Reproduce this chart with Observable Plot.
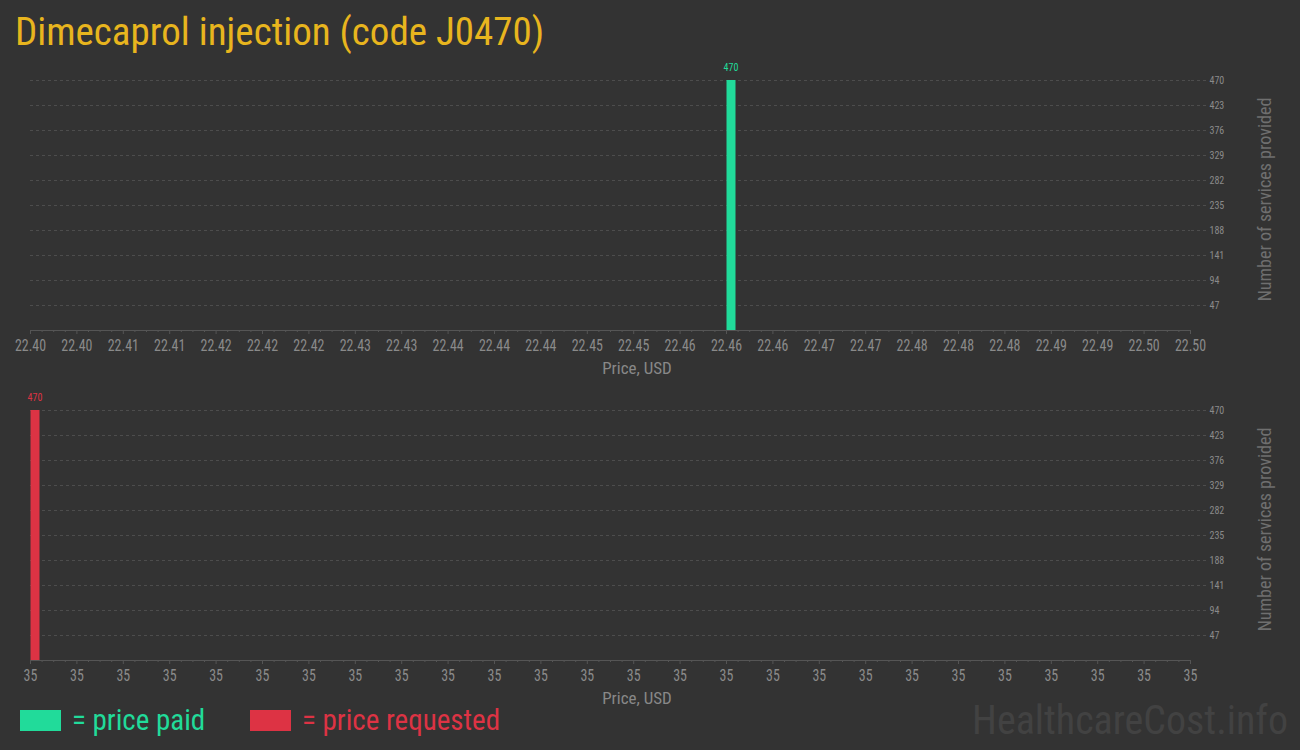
<!DOCTYPE html>
<html>
<head>
<meta charset="utf-8">
<script src="https://cdn.jsdelivr.net/npm/d3@7"></script>
<script src="https://cdn.jsdelivr.net/npm/@observablehq/plot@0.6"></script>
<style>
  html, body { margin: 0; padding: 0; background: #333333; }
  #page { position: relative; width: 1300px; height: 750px; background: #333333; overflow: hidden;
          font-family: "Liberation Sans Narrow", "Roboto Condensed", "DejaVu Sans Condensed", sans-serif; }
  .abs { position: absolute; white-space: nowrap; }
  #title { left: 15px; top: 9px; font-size: 39px; color: #E8B51E; }
  .xlabel { font-size: 17px; color: #888888; width: 200px; text-align: center; }
  .ylabel { font-size: 18px; color: #6f6f6f; transform: rotate(-90deg); transform-origin: center center; width: 300px; text-align: center; }
  .chart { position: absolute; left: 0; }
  .sw { position: absolute; width: 41px; height: 21px; }
  .lg { font-size: 29px; }
  #wm { right: 12px; top: 697px; font-size: 40px; color: #424242; }
</style>
</head>
<body>
<div id="page">
  <div id="title" class="abs">Dimecaprol injection (code J0470)</div>
  <div id="top" class="chart" style="top:55px"></div>
  <div id="bottom" class="chart" style="top:385px"></div>
  <div class="abs xlabel" style="left:537px; top:358px">Price, USD</div>
  <div class="abs xlabel" style="left:537px; top:688px">Price, USD</div>
  <div class="abs ylabel" style="left:1114px; top:189px">Number of services provided</div>
  <div class="abs ylabel" style="left:1114px; top:519px">Number of services provided</div>
  <div class="sw" style="left:20px; top:710px; background:#21DB9A"></div>
  <div class="abs lg" style="left:72px; top:703px; color:#21DB9A">= price paid</div>
  <div class="sw" style="left:250px; top:710px; background:#DD3344"></div>
  <div class="abs lg" style="left:302px; top:703px; color:#DD3344">= price requested</div>
  <div id="wm" class="abs">HealthcareCost.info</div>
</div>
<script>
// ---- data ----
const paidPrices = [22.46];
const paidCounts = [470];
const requestedPrices = [35];
const requestedCounts = [470];
const yTicks = [47, 94, 141, 188, 235, 282, 329, 376, 423, 470];
const paidTicks = [22.400, 22.404, 22.408, 22.412, 22.416, 22.420, 22.424, 22.428, 22.432, 22.436,
  22.440, 22.444, 22.448, 22.452, 22.456, 22.460, 22.464, 22.468, 22.472, 22.476,
  22.480, 22.484, 22.488, 22.492, 22.496, 22.500];
const requestedTicks = [35.000, 35.004, 35.008, 35.012, 35.016, 35.020, 35.024, 35.028, 35.032, 35.036,
  35.040, 35.044, 35.048, 35.052, 35.056, 35.060, 35.064, 35.068, 35.072, 35.076,
  35.080, 35.084, 35.088, 35.092, 35.096, 35.100];
const paidDomain = [22.40, 22.50];
const requestedDomain = [35.0, 35.1];
const yDomain = [0, 470];

function minorTicks(ticks) {
  const out = [];
  for (let i = 0; i < ticks.length - 1; i++) {
    const step = (ticks[i + 1] - ticks[i]) / 4;
    for (let k = 1; k < 4; k++) out.push(ticks[i] + k * step);
  }
  return out;
}

function histogram(prices, counts, ticks, domain, fmt, color) {
  const data = prices.map((p, i) => ({price: p, count: counts[i]}));
  const svg = Plot.plot({
    width: 1300,
    height: 320,
    marginTop: 25,
    marginBottom: 45,
    marginLeft: 30,
    marginRight: 110,
    style: {background: "transparent", fontFamily: '"Liberation Sans Narrow", "Roboto Condensed", "DejaVu Sans Condensed", sans-serif', overflow: "visible"},
    x: {domain, axis: null},
    y: {domain: yDomain, axis: null},
    marks: [
      Plot.gridY(yTicks, {stroke: "#4d4d4d", strokeOpacity: 1, strokeDasharray: "3,3"}),
      Plot.axisY(yTicks, {anchor: "right", tickSize: 15, tickPadding: 4, stroke: "#4d4d4d", strokeDasharray: "3,3", fill: "#8a8a8a", fontSize: 10, tickFormat: d3.format("d"), label: null}),
      Plot.ruleY([0], {stroke: "#555555"}),
      Plot.axisX(minorTicks(ticks), {anchor: "bottom", tickSize: 2, stroke: "#555555", tickFormat: () => "", label: null}),
      Plot.axisX(ticks, {anchor: "bottom", tickSize: 4, tickPadding: 4, stroke: "#555555", fill: "#8a8a8a", fontSize: 17, tickFormat: fmt, label: null}),
      Plot.ruleX(data, {x: "price", y1: 0, y2: "count", stroke: color, strokeWidth: 9, dx: 4.5}),
      Plot.text(data, {x: "price", y: "count", text: d => String(d.count), dx: 4.5, dy: -13, fill: color, fontSize: 10})
    ]
  });
  // condense the x tick labels horizontally, like the reference's narrow face
  d3.select(svg).selectAll('g[aria-label="x-axis tick label"] text').each(function() {
    const t = this.getAttribute("transform") || "";
    if (this.textContent) this.setAttribute("transform", t + " scale(0.82,1)");
  });
  return svg;
}

document.getElementById("top").append(histogram(paidPrices, paidCounts, paidTicks, paidDomain, d3.format(".2f"), "#21DB9A"));
document.getElementById("bottom").append(histogram(requestedPrices, requestedCounts, requestedTicks, requestedDomain, d3.format(".0f"), "#DD3344"));
</script>
</body>
</html>
